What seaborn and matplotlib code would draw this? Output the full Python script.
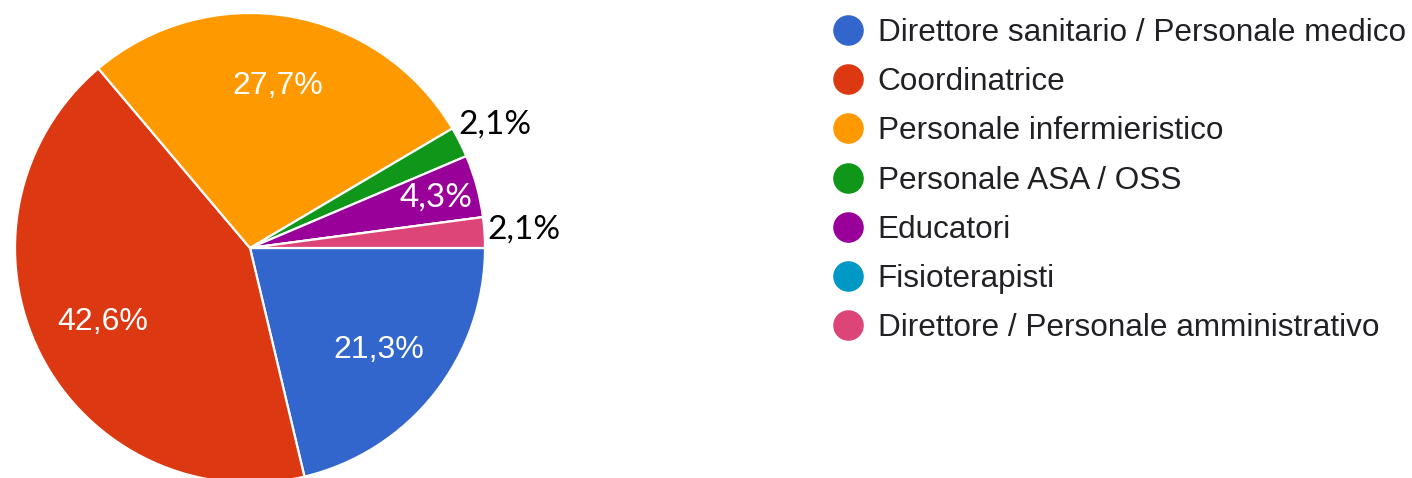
import matplotlib
matplotlib.use("Agg")
import matplotlib.pyplot as plt
import seaborn as sns
from matplotlib.lines import Line2D
import numpy as np

# data
categories = [
    "Direttore sanitario / Personale medico",
    "Coordinatrice",
    "Personale infermieristico",
    "Personale ASA / OSS",
    "Educatori",
    "Fisioterapisti",
    "Direttore / Personale amministrativo",
]
percent = [21.3, 42.6, 27.7, 2.1, 4.3, 0.0, 2.1]
pct_labels = ["21,3%", "42,6%", "27,7%", "2,1%", "4,3%", "", "2,1%"]

colors = sns.color_palette(["#3366cc", "#dc3912", "#ff9900", "#109618",
                            "#990099", "#0099c6", "#dd4477"])

sns.set_theme(style="white")
plt.rcParams["font.family"] = ["Liberation Sans", "DejaVu Sans"]

W, H = 1412, 478
fig = plt.figure(figsize=(W / 100, H / 100), dpi=100)

# pie axes: centre (250, 248) px, radius 235 px
cx, cy, r = 250, 248, 235
ax = fig.add_axes([(cx - r) / W, (H - cy - r) / H, 2 * r / W, 2 * r / H])
wedges, _ = ax.pie(percent, colors=colors, startangle=0, counterclock=False,
                   radius=1.0,
                   wedgeprops=dict(edgecolor="white", linewidth=1.6))
ax.set_xlim(-1, 1)
ax.set_ylim(-1, 1)
ax.set_aspect("equal")
ax.axis("off")

# labels: big slices in white, small ones added in another font
for w, lab, val in zip(wedges, pct_labels, percent):
    if not lab:
        continue
    mid = np.deg2rad((w.theta1 + w.theta2) / 2)
    if val >= 10:
        d, kw = 0.70, dict(color="white", fontsize=23)
    elif val >= 4:
        d, kw = 0.82, dict(color="white", fontsize=24, family=["Lato"])
    else:
        d, kw = 1.17, dict(color="black", fontsize=24, family=["Lato"])
    ax.text(d * np.cos(mid), d * np.sin(mid), lab, ha="center", va="center",
            clip_on=False, **kw)

handles = [Line2D([], [], marker="o", linestyle="", markersize=21,
                  markerfacecolor=c, markeredgecolor=c) for c in colors]
fig.legend(handles, categories,
           loc="upper left", bbox_to_anchor=(832 / W, 1 - 18 / H),
           frameon=False, fontsize=22.7, labelcolor="#202124",
           handlelength=1.0, handletextpad=0.45, labelspacing=0.61,
           borderpad=0, borderaxespad=0)

fig.savefig("out.png", dpi=100)
